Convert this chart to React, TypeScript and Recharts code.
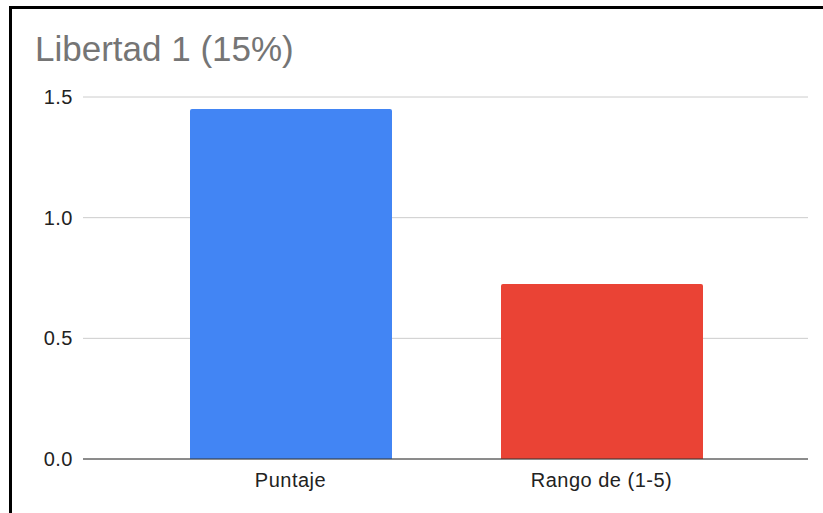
import React from 'react';
import { BarChart, Bar, XAxis, YAxis, CartesianGrid, Cell } from 'recharts';

const categories = ['Puntaje', 'Rango de (1-5)'];
const values = [1.45, 0.725];
const barColors = ['#4285F4', '#EA4335'];
const yTicks = [0, 0.5, 1.0, 1.5];

const data = categories.map((name, i) => ({ name, value: values[i] }));

const fontFamily = '"Liberation Sans", Arial, sans-serif';
const tickStyle = { fill: '#222222', fontSize: 20, fontFamily, letterSpacing: 0.5 };

const App: React.FC = () => {
  return (
    <div
      style={{
        position: 'absolute',
        left: 9,
        top: 6,
        width: 814,
        height: 507,
        borderTop: '3px solid #000',
        borderLeft: '3px solid #000',
        background: '#fff',
        fontFamily,
      }}
    >
      <div
        style={{
          position: 'absolute',
          left: 23,
          top: 22,
          fontSize: 35,
          lineHeight: '35px',
          color: '#757575',
          whiteSpace: 'nowrap',
        }}
      >
        Libertad 1 (15%)
      </div>
      <BarChart
        width={811}
        height={504}
        data={data}
        margin={{ top: 88, right: 15, left: 0, bottom: 24 }}
      >
        <CartesianGrid vertical={false} stroke="#cccccc" />
        <XAxis
          dataKey="name"
          tickLine={false}
          tickSize={0}
          tickMargin={14}
          axisLine={{ stroke: '#333333' }}
          padding={{ left: 52, right: 51 }}
          tick={tickStyle}
          height={30}
        />
        <YAxis
          domain={[0, 1.5]}
          ticks={yTicks}
          width={71}
          axisLine={false}
          tickLine={false}
          tickSize={0}
          tickMargin={10}
          tickFormatter={(v: number) => v.toFixed(1)}
          tick={tickStyle}
        />
        <Bar dataKey="value" barSize={202} radius={[2, 2, 0, 0]} isAnimationActive={false}>
          {data.map((d, i) => (
            <Cell key={d.name} fill={barColors[i]} />
          ))}
        </Bar>
      </BarChart>
    </div>
  );
};

export default App;
